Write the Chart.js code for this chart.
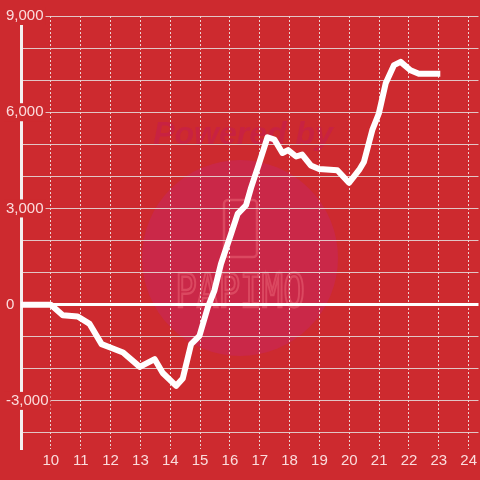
<!DOCTYPE html>
<html lang="en">
<head>
    <meta charset="UTF-8">
    <title>Balance</title>
    <style>
        html, body { margin: 0; padding: 0; background: #cd2a2f; }
        #wrap { width: 480px; height: 480px; position: relative; }
    </style>
</head>
<body>
    <div id="wrap">
        <canvas id="chartContainer"></canvas>
    </div>
<script src="https://cdn.jsdelivr.net/npm/chart.js"></script>
<script>
// hours of the day and the running balance at each of them
const hours = [9, 10, 10.4, 10.9, 11.3, 11.7, 11.97, 12.42, 12.98, 13.48, 13.75, 14.2, 14.42, 14.7, 14.98,
    15.26, 15.48, 15.7, 16.04, 16.26, 16.54, 16.71, 16.96, 17.26, 17.49, 17.76, 17.95, 18.22, 18.42, 18.71,
    18.99, 19.6, 19.99, 20.33, 20.49, 20.77, 20.99, 21.22, 21.5, 21.72, 22.05, 22.33, 23.05];
const balance = [0, 0, -330, -370, -600, -1230, -1330, -1490, -1940, -1700, -2130, -2530, -2300, -1230, -970,
    -80, 440, 1270, 2210, 2830, 3100, 3650, 4350, 5220, 5150, 4730, 4820, 4620, 4680, 4340,
    4230, 4190, 3800, 4200, 4450, 5440, 5960, 6900, 7470, 7570, 7310, 7200, 7200];
// grid lines every 1000, labelled every 3000
const yTicks = [-4000, -3000, -2000, -1000, 0, 1000, 2000, 3000, 4000, 5000, 6000, 7000, 8000, 9000];
const yLabelStep = 3000;
const xTicks = [9, 10, 11, 12, 13, 14, 15, 16, 17, 18, 19, 20, 21, 22, 23, 24];

const bgRed = '#cd2a2f';
const textColor = 'rgba(255,236,236,0.92)';

document.addEventListener('DOMContentLoaded', function() {
    const ctx = document.getElementById('chartContainer').getContext('2d');

    // background + faint watermark, drawn before the grid
    const watermark = {
        id: 'watermark',
        beforeDraw(chart) {
            const c = chart.ctx;
            c.save();
            c.fillStyle = bgRed;
            c.fillRect(0, 0, chart.width, chart.height);
            c.fillStyle = 'rgb(202,40,72)';
            c.beginPath();
            c.arc(240, 258, 98, 0, Math.PI * 2);
            c.fill();

            c.fillStyle = 'rgba(196,30,78,0.6)';
            c.font = 'italic bold 32px "Liberation Sans"';
            c.textAlign = 'center';
            c.textBaseline = 'alphabetic';
            c.fillText('Powered by', 243, 144);

            c.strokeStyle = 'rgba(236,104,120,0.5)';
            c.lineWidth = 2.5;
            c.beginPath();
            c.roundRect(224, 200, 33, 57, 4);
            c.stroke();

            c.translate(240, 307);
            c.scale(0.78, 1);
            c.font = '46px "DejaVu Sans Mono"';
            c.lineWidth = 2.5;
            c.strokeText('PAPIMO', 0, 0);
            c.restore();
        }
    };

    new Chart(ctx, {
        type: 'line',
        data: {
            datasets: [{
                data: hours.map((h, i) => ({x: h, y: balance[i]})),
                borderColor: '#ffffff',
                borderWidth: 6,
                borderJoinStyle: 'round',
                pointRadius: 0,
                tension: 0,
                fill: false
            }]
        },
        options: {
            responsive: true,
            maintainAspectRatio: false,
            animation: false,
            layout: { padding: { left: 5, top: 16, right: 0, bottom: 7 } },
            plugins: {
                legend: { display: false },
                tooltip: { enabled: false }
            },
            scales: {
                x: {
                    type: 'linear',
                    min: 9,
                    max: 24.33,
                    afterBuildTicks(scale) { scale.ticks = xTicks.map(v => ({value: v})); },
                    grid: {
                        color: 'rgba(240,228,228,0.9)',
                        lineWidth: 1,
                        drawTicks: false
                    },
                    border: { display: false, dash: [2, 2] },
                    ticks: {
                        autoSkip: false,
                        maxRotation: 0,
                        padding: 3,
                        color: textColor,
                        font: { family: '"Liberation Sans"', size: 15 },
                        callback: v => v === 9 ? '' : v
                    }
                },
                y: {
                    min: -4500,
                    max: 9000,
                    afterBuildTicks(scale) { scale.ticks = yTicks.map(v => ({value: v})); },
                    afterFit(scale) { scale.width = 16; },
                    grid: {
                        color: c => c.tick.value === 0 ? '#ffffff' : 'rgba(228,214,214,0.9)',
                        lineWidth: c => c.tick.value === 0 ? 3 : 1,
                        drawTicks: false
                    },
                    border: { display: true, color: '#f4f0f0', width: 3 },
                    ticks: {
                        autoSkip: false,
                        mirror: true,
                        crossAlign: 'near',
                        padding: -15,
                        color: textColor,
                        font: { family: '"Liberation Sans"', size: 15 },
                        showLabelBackdrop: c => c.tick.value % yLabelStep === 0 && c.tick.value !== 0,
                        backdropColor: bgRed,
                        backdropPadding: { top: 0, bottom: 0, left: 2, right: 2 },
                        callback: v => v % yLabelStep === 0 ? v.toLocaleString('en-US') : ''
                    }
                }
            }
        },
        plugins: [watermark]
    });
});
</script>
</body>
</html>
